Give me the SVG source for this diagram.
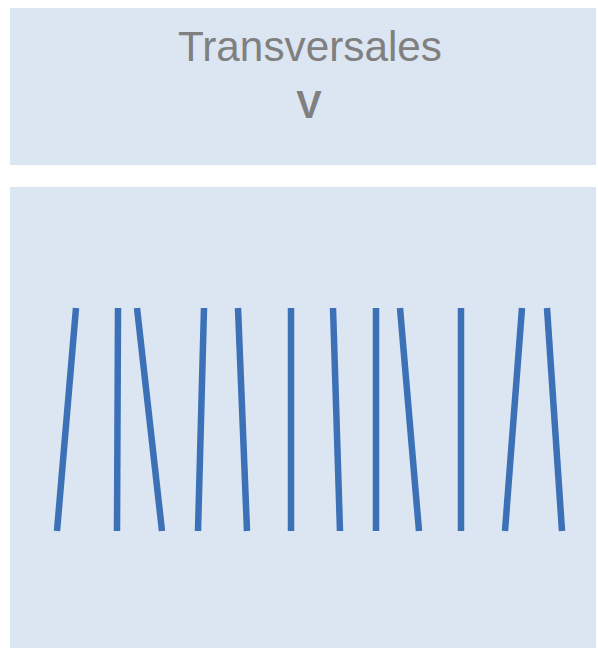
<svg xmlns="http://www.w3.org/2000/svg" width="598" height="648" viewBox="0 0 598 648">
<style>
.panel{fill:#dce6f2}
.t{font-family:"Liberation Sans",Arial,sans-serif;fill:#808080;text-anchor:middle}
.ln{stroke:#3c70b7;stroke-width:6.5;stroke-linecap:butt;fill:none}
</style>
<rect width="598" height="648" fill="#ffffff"/>
<g id="header">
<rect class="panel" x="10" y="8" width="586" height="157"/>
<text class="t" x="310" y="61" font-size="42" textLength="264" lengthAdjust="spacingAndGlyphs">Transversales</text>
<text class="t" x="309" y="118" font-size="38" font-weight="bold">V</text>
</g>
<g id="body">
<rect class="panel" x="10" y="187" width="586" height="461"/>
</g>
<g id="lines">
<line class="ln" x1="76" y1="308" x2="57" y2="531"/>
<line class="ln" x1="118" y1="308" x2="117" y2="531"/>
<line class="ln" x1="137" y1="308" x2="162" y2="531"/>
<line class="ln" x1="204" y1="308" x2="198" y2="531"/>
<line class="ln" x1="238" y1="308" x2="247" y2="531"/>
<line class="ln" x1="291" y1="308" x2="291" y2="531"/>
<line class="ln" x1="333" y1="308" x2="340" y2="531"/>
<line class="ln" x1="376" y1="308" x2="376" y2="531"/>
<line class="ln" x1="400" y1="308" x2="419" y2="531"/>
<line class="ln" x1="461" y1="308" x2="461" y2="531"/>
<line class="ln" x1="522" y1="308" x2="505" y2="531"/>
<line class="ln" x1="547" y1="308" x2="562" y2="531"/>
</g>
</svg>
